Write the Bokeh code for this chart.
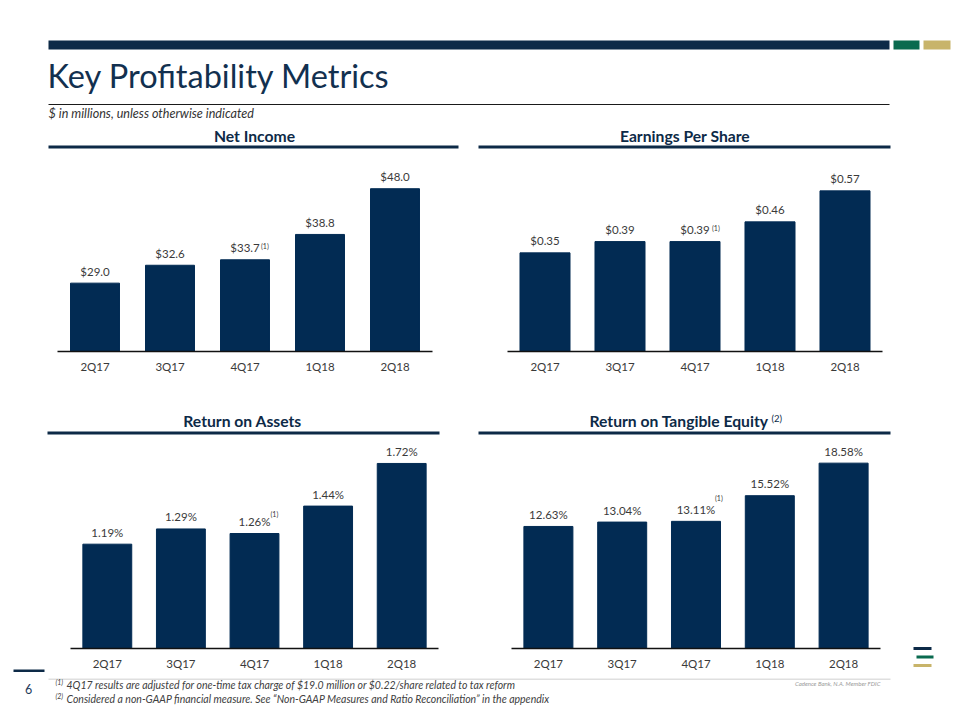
from bokeh.plotting import figure
from bokeh.layouts import column, row
from bokeh.models import Range1d, FactorRange
from bokeh.core.properties import value
from bokeh.embed import file_html
from bokeh.resources import INLINE

# ---------------- data ----------------
quarters = ["2Q17", "3Q17", "4Q17", "1Q18", "2Q18"]
net_income = [29.0, 32.6, 33.7, 38.8, 48.0]
eps = [0.35, 0.39, 0.39, 0.46, 0.57]
roa = [1.19, 1.29, 1.26, 1.44, 1.72]
rote = [12.63, 13.04, 13.11, 15.52, 18.58]
notes = ["", "", "(1)", "", ""]

net_income_labels = ["$%.1f" % v for v in net_income]
eps_labels = ["$%.2f" % v for v in eps]
roa_labels = ["%.2f%%" % v for v in roa]
rote_labels = ["%.2f%%" % v for v in rote]

title = "Key Profitability Metrics"
subtitle = "$ in millions, unless otherwise indicated"
panel_titles = ["Net Income", "Earnings Per Share", "Return on Assets", "Return on Tangible Equity"]
footnote_marks = ["(1)", "(2)"]
footnotes = [
    "4Q17 results are adjusted for one-time tax charge of $19.0 million or $0.22/share related to tax reform",
    "Considered a non-GAAP financial measure. See \u201cNon-GAAP Measures and Ratio Reconciliation\u201d in the appendix",
]
page_number = "6"
disclaimer = "Cadence Bank, N.A. Member FDIC"

# ---------------- style ----------------
FONT = "Lato"
BAR_NAVY = "#022B53"
DARK = "#0D2A47"
GREEN = "#0A6A4F"
GOLD = "#C8B46A"
TXT = "#3A3A3A"


def deco_fig(w, h, x0, x1, y0, y1):
    p = figure(width=w, height=h, x_range=Range1d(x0, x1), y_range=Range1d(y1, y0),
               output_backend="svg", toolbar_location=None,
               x_axis_type=None, y_axis_type=None, min_border=0)
    p.outline_line_color = None
    return p


def chart(vals, labels, width, left, right, height, top, bottom, ystart, yend,
          bar_w, standoff, sup_dx, sup_dy):
    p = figure(x_range=FactorRange(*quarters), y_range=Range1d(ystart, yend),
               width=width, height=height, output_backend="svg", toolbar_location=None,
               y_axis_location=None,
               min_border_left=left, min_border_right=right,
               min_border_top=top, min_border_bottom=bottom)
    p.outline_line_color = None
    p.xgrid.visible = False
    p.ygrid.visible = False
    p.vbar(x=quarters, top=vals, bottom=ystart, width=bar_w,
           fill_color=BAR_NAVY, line_color=BAR_NAVY)
    p.text(x=quarters, y=vals, text=labels, text_align="center", text_baseline="middle",
           y_offset=-12, text_font=value(FONT), text_font_size="11.5px", text_color=TXT)
    p.text(x=quarters, y=vals, text=notes, text_align="left", text_baseline="middle",
           x_offset=sup_dx, y_offset=sup_dy, text_font=value(FONT),
           text_font_size="7px", text_color=TXT)
    ax = p.xaxis[0]
    ax.axis_line_color = "#111111"
    ax.axis_line_width = 1.5
    ax.major_tick_line_color = None
    ax.minor_tick_line_color = None
    ax.major_label_standoff = standoff
    ax.major_label_text_font = FONT
    ax.major_label_text_font_size = "11.5px"
    ax.major_label_text_color = TXT
    return p


# ---------------- header (page y 0..150) ----------------
hdr = deco_fig(952, 150, 0, 952, 0, 150)
hdr.quad(left=[48, 893, 923], right=[889, 919, 950], top=[40, 40, 40], bottom=[49, 49, 49],
         fill_color=[DARK, GREEN, GOLD], line_color=None)
hdr.text(x=[47], y=[75], text=[title], text_baseline="middle", text_align="left",
         text_font=value(FONT), text_font_size="32.5px", text_color="#12304F")
hdr.segment(x0=[48], x1=[889], y0=[104], y1=[104], line_color="#1A1A1A", line_width=1)
hdr.text(x=[48], y=[113], text=[subtitle], text_baseline="middle", text_align="left",
         text_font=value(FONT), text_font_size="12.6px", text_font_style="italic",
         text_color="#333333")
hdr.text(x=[254, 684.5], y=[135, 135], text=panel_titles[:2], text_baseline="middle",
         text_align="center", text_font=value(FONT), text_font_size="15.7px",
         text_font_style="bold", text_color=DARK)
hdr.quad(left=[48, 478], right=[458, 890], top=[145, 145], bottom=[148, 148],
         fill_color=DARK, line_color=None)

# ---------------- row 1 (page y 150..385) ----------------
c1 = chart(net_income, net_income_labels, 472, 57, 40, 235, 15, 34, 15.25, 52.67,
           0.653, 2, 16, -14)
c2 = chart(eps, eps_labels, 480, 35, 70, 235, 15, 34, 0.0, 0.66,
           0.667, 2, 17, -14)

# ---------------- middle titles (page y 385..442) ----------------
mid = deco_fig(952, 57, 0, 952, 385, 442)
mid.text(x=[242], y=[420.5], text=[panel_titles[2]], text_baseline="middle",
         text_align="center", text_font=value(FONT), text_font_size="15.7px",
         text_font_style="bold", text_color=DARK)
mid.text(x=[768], y=[420.5], text=[panel_titles[3]], text_baseline="middle",
         text_align="right", text_font=value(FONT), text_font_size="15.7px",
         text_font_style="bold", text_color=DARK)
mid.text(x=[771], y=[418], text=[footnote_marks[1]], text_baseline="middle",
         text_align="left", text_font=value(FONT), text_font_size="9.5px", text_color=DARK)
mid.quad(left=[47, 478], right=[439, 890], top=[431, 431], bottom=[434, 434],
         fill_color=DARK, line_color=None)

# ---------------- row 2 (page y 442..678) ----------------
lft = deco_fig(48, 236, 0, 48, 442, 678)
lft.quad(left=[13], right=[44], top=[669], bottom=[671.5], fill_color=DARK, line_color=None)
c3 = chart(roa, roa_labels, 424, 22, 34, 236, 0, 30, 0.505, 1.8576,
           0.664, 2, 16, -20)
c4 = chart(rote, rote_labels, 420, 39, 12, 236, 0, 30, 1.16, 20.52,
           0.664, 2, 19, -23)
logo = deco_fig(60, 236, 892, 952, 442, 678)
logo.quad(left=[913, 916, 913], right=[931, 933, 931], top=[646.5, 655, 663.5],
          bottom=[649.5, 658, 666.5], fill_color=[DARK, GREEN, GOLD], line_color=None)

# ---------------- footer (page y 678..712) ----------------
ftr = deco_fig(952, 34, 0, 952, 678, 712)
ftr.segment(x0=[48], x1=[890], y0=[678.5], y1=[678.5], line_color="#C0C0C0", line_width=1)
ftr.text(x=[28], y=[688], text=[page_number], text_baseline="middle", text_align="center",
         text_font=value(FONT), text_font_size="12.5px", text_color="#1F3A5A")
ftr.text(x=[55, 55], y=[681.5, 695.5], text=footnote_marks, text_baseline="middle",
         text_align="left", text_font=value(FONT), text_font_size="7px",
         text_font_style="italic", text_color="#404040")
ftr.text(x=[66, 66], y=[684, 698], text=footnotes, text_baseline="middle",
         text_align="left", text_font=value(FONT), text_font_size="10.5px",
         text_font_style="italic", text_color="#404040")
ftr.text(x=[880], y=[683], text=[disclaimer], text_baseline="middle", text_align="right",
         text_font=value(FONT), text_font_size="6px", text_font_style="italic",
         text_color="#9A9A9A")

layout = column(hdr, row(c1, c2), mid, row(column(lft), c3, c4, column(logo)), ftr)

open("out.html", "w").write(file_html(layout, INLINE))
